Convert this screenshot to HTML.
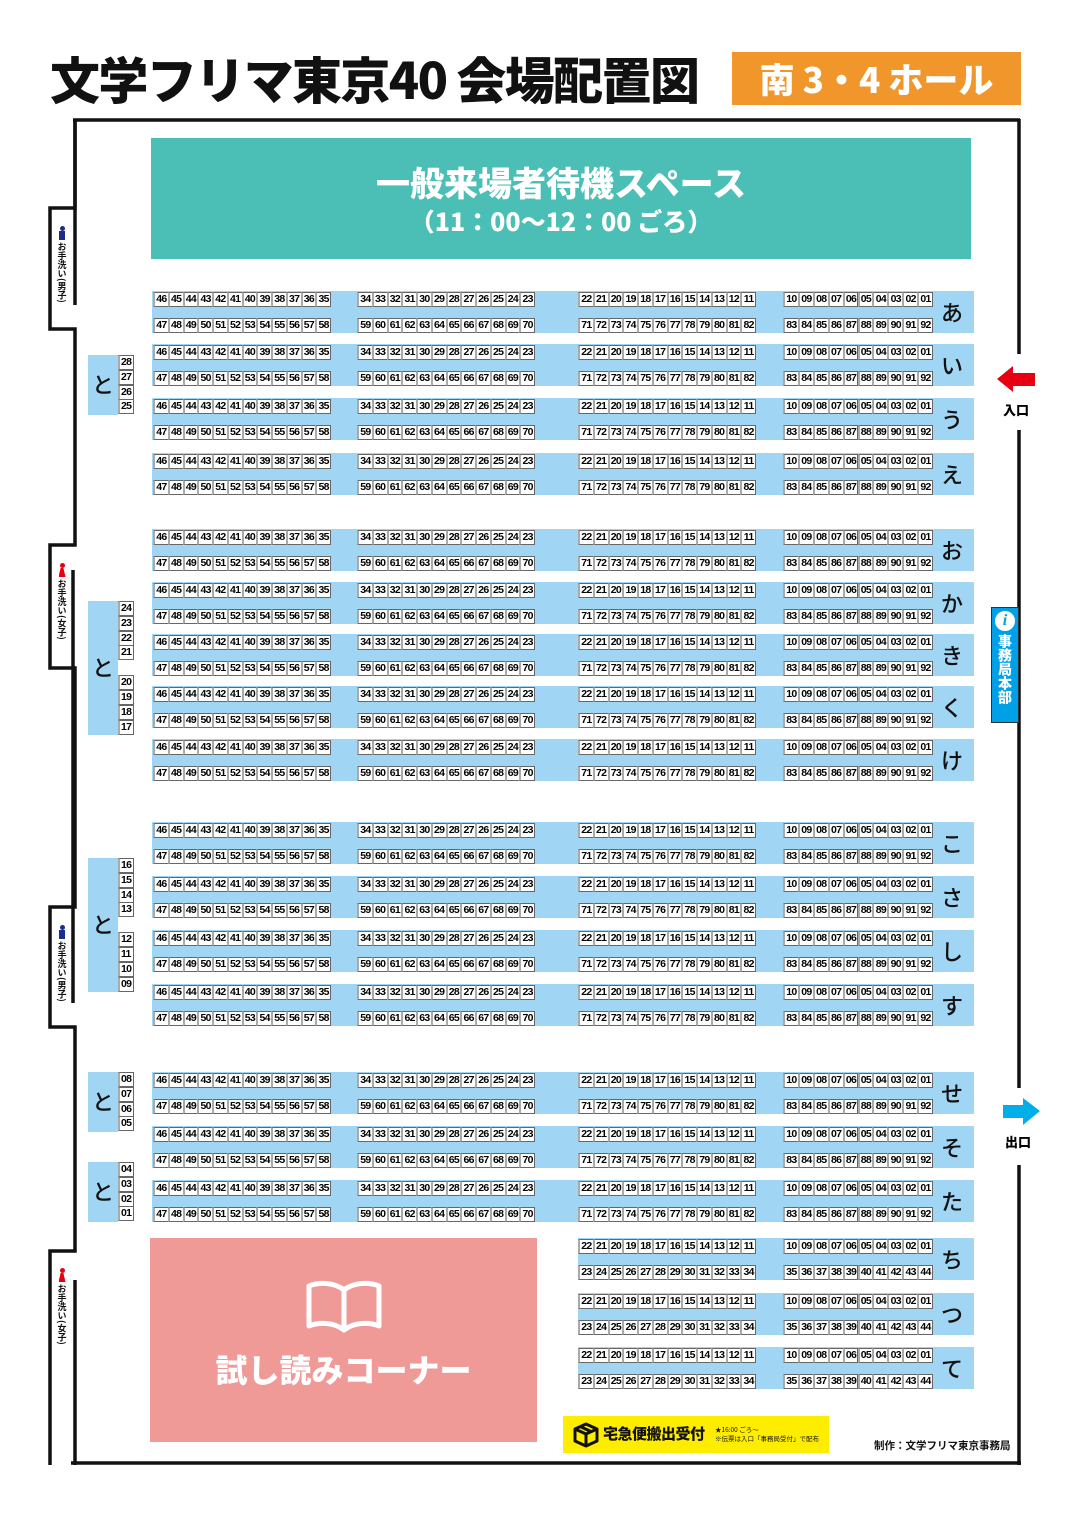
<!DOCTYPE html>
<html><head><meta charset="utf-8">
<style>
*{margin:0;padding:0;box-sizing:border-box}
body{width:1075px;height:1518px;background:#fff;position:relative;overflow:hidden;font-family:"Liberation Sans","Noto Sans CJK JP",sans-serif}
.abs{position:absolute}
.cell{position:absolute;height:15px;background:#fff;border:1px solid #666;border-left:2px solid #aaa;font-size:10.5px;font-weight:700;line-height:13px;text-align:center;letter-spacing:-0.7px;color:#000;font-family:"Liberation Sans",sans-serif}
.band{position:absolute;background:#a0d6f4}
.kana{position:absolute;font-family:"Noto Sans CJK JP",sans-serif;font-size:22px;font-weight:500;color:#111;text-align:center;line-height:22px}
.vt{writing-mode:vertical-rl;font-family:"Noto Sans CJK JP",sans-serif;font-weight:700}
</style></head><body>
<div class="abs" style="left:50px;top:45px;font-family:'Noto Sans CJK JP',sans-serif;font-weight:900;font-size:50px;line-height:66px;color:#111;white-space:nowrap;letter-spacing:-1.6px">文学フリマ東京40 会場配置図</div>
<div class="abs" style="left:732px;top:52px;width:289px;height:53px;background:#f0962a;color:#fff;font-family:'Noto Sans CJK JP',sans-serif;font-weight:900;font-size:35px;line-height:53px;text-align:center;white-space:nowrap">南 3・4 ホール</div>

<svg class="abs" style="left:0;top:0" width="1075" height="1518">
<g stroke="#111" stroke-width="3.5" fill="none">
<path d="M73,120 H1020"/>
<path d="M1019,119 V354 M1019,430 V1088 M1019,1165 V1465"/>
<path d="M71,1463 H1021"/>
<path d="M75,119 V208 H50 V329 H75 V545 H50 V668 H75 V907 H50 V1027 H75 V1251 H50 V1465"/>
<path d="M75,120 V305 M73,570 V907 V1003 M75,1280 V1465"/>
</g>
<polygon points="997,379 1013,366 1013,373 1035,373 1035,386 1013,386 1013,392" fill="#e60012"/>
<polygon points="1040,1111 1023,1098 1023,1105 1003,1105 1003,1118 1023,1118 1023,1125" fill="#00aee8"/>
</svg>
<div class="abs" style="left:1003px;top:400px;font-family:'Noto Sans CJK JP',sans-serif;font-weight:900;font-size:13px">入口</div>
<div class="abs" style="left:1005px;top:1132px;font-family:'Noto Sans CJK JP',sans-serif;font-weight:900;font-size:13px">出口</div>

<div class="abs" style="left:55px;top:226px;width:14px;text-align:center"><div style="width:5px;height:5px;border-radius:50%;background:#1a2f8a;margin:0 auto"></div><div style="width:6px;height:9px;background:#1a2f8a;margin:0 auto 2px"></div><div class="vt" style="font-size:9px;color:#111;margin:0 auto">お手洗い(男子)</div></div>
<div class="abs" style="left:55px;top:563px;width:14px;text-align:center"><div style="width:5px;height:5px;border-radius:50%;background:#e60012;margin:0 auto"></div><div style="width:7px;height:9px;background:#e60012;margin:0 auto 2px;clip-path:polygon(30% 0,70% 0,100% 100%,0 100%)"></div><div class="vt" style="font-size:9px;color:#111;margin:0 auto">お手洗い(女子)</div></div>
<div class="abs" style="left:55px;top:925px;width:14px;text-align:center"><div style="width:5px;height:5px;border-radius:50%;background:#1a2f8a;margin:0 auto"></div><div style="width:6px;height:9px;background:#1a2f8a;margin:0 auto 2px"></div><div class="vt" style="font-size:9px;color:#111;margin:0 auto">お手洗い(男子)</div></div>
<div class="abs" style="left:55px;top:1268px;width:14px;text-align:center"><div style="width:5px;height:5px;border-radius:50%;background:#e60012;margin:0 auto"></div><div style="width:7px;height:9px;background:#e60012;margin:0 auto 2px;clip-path:polygon(30% 0,70% 0,100% 100%,0 100%)"></div><div class="vt" style="font-size:9px;color:#111;margin:0 auto">お手洗い(女子)</div></div>

<div class="abs" style="left:151px;top:138px;width:820px;height:121px;background:#4bbfb6;color:#fff;text-align:center;font-family:'Noto Sans CJK JP',sans-serif;font-weight:900">
<div style="font-size:34px;line-height:40px;margin-top:24px">一般来場者待機スペース</div>
<div style="font-size:25px;line-height:34px;margin-top:2px">（11：00～12：00 ごろ）</div>
</div>

<div class="abs" style="left:991px;top:607px;width:28px;height:116px;background:#00a0e9;border:1px solid #333">
<div style="width:20px;height:20px;border-radius:50%;background:#fff;color:#00a0e9;margin:3px auto 0;font:italic 700 16px/20px 'Liberation Serif',serif;text-align:center">i</div>
<div class="vt" style="color:#fff;font-size:14px;font-weight:900;margin:3px auto 0;line-height:26px">事務局本部</div>
</div>

<div class="abs" style="left:150px;top:1238px;width:387px;height:204px;background:#f09a98;text-align:center">
<svg width="80" height="56" style="margin-top:40px"><g fill="none" stroke="#fff" stroke-width="5" stroke-linejoin="round"><path d="M40,12 C30,4 14,4 5,8 V48 C14,44 30,44 40,52 C50,44 66,44 75,48 V8 C66,4 50,4 40,12 Z M40,12 V52"/></g></svg>
<div style="color:#fff;font-family:'Noto Sans CJK JP',sans-serif;font-weight:900;font-size:32px;line-height:40px;margin-top:10px">試し読みコーナー</div>
</div>

<div class="abs" style="left:563px;top:1416px;width:266px;height:37px;background:#ffed00">
<svg class="abs" style="left:10px;top:6px" width="26" height="26"><g fill="none" stroke="#111" stroke-width="3" stroke-linejoin="round"><path d="M13,2 L24,7 V19 L13,24 L2,19 V7 Z M2,7 L13,12 L24,7 M13,12 V24 M7,4.5 L18,9.5"/></g></svg>
<div class="abs" style="left:40px;top:6px;font-family:'Noto Sans CJK JP',sans-serif;font-weight:900;font-size:15px;line-height:24px;color:#111;white-space:nowrap;letter-spacing:-0.5px">宅急便搬出受付</div>
<div class="abs" style="left:152px;top:9px;font-family:'Noto Sans CJK JP',sans-serif;font-size:6.5px;line-height:9px;color:#111;white-space:nowrap">★16:00 ごろ～<br>※伝票は入口「事務局受付」で配布</div>
</div>
<div class="abs" style="left:874px;top:1438px;font-family:'Noto Sans CJK JP',sans-serif;font-weight:700;font-size:10.5px;color:#111;white-space:nowrap">制作：文学フリマ東京事務局</div>

<div id="seats"></div>
<script>
// row groups: label, top y of upper seat row
const rowLabels = ['あ','い','う','え','お','か','き','く','け','こ','さ','し','す','せ','そ','た','ち','つ','て'];
const rowTops = [292,345,399,454,530,583,635,687,740,823,877,931,985,1073,1127,1181,1239,1294,1348];
const shortRows = ['ち','つ','て'];
// seat numbers per block (upper / lower)
const upperFull = [[46,45,44,43,42,41,40,39,38,37,36,35],[34,33,32,31,30,29,28,27,26,25,24,23],[22,21,20,19,18,17,16,15,14,13,12,11],[10,9,8,7,6,5,4,3,2,1]];
const lowerFull = [[47,48,49,50,51,52,53,54,55,56,57,58],[59,60,61,62,63,64,65,66,67,68,69,70],[71,72,73,74,75,76,77,78,79,80,81,82],[83,84,85,86,87,88,89,90,91,92]];
const upperShort = [[22,21,20,19,18,17,16,15,14,13,12,11],[10,9,8,7,6,5,4,3,2,1]];
const lowerShort = [[23,24,25,26,27,28,29,30,31,32,33,34],[35,36,37,38,39,40,41,42,43,44]];
// side "と" blocks
const toTops = [355,601,858,1072,1162];
const toSeats = [[28,27,26,25],[24,23,22,21,20,19,18,17],[16,15,14,13,12,11,10,9],[8,7,6,5],[4,3,2,1]];

const root = document.getElementById('seats');
const blockX = [153,357,578,783];
const blockEnd = [330,534,755,932];
const pad = n => String(n).padStart(2,'0');

function cellRow(nums, x0, x1, y, name){
  const w = (x1-x0)/nums.length;
  nums.forEach((n,i)=>{
    const c=document.createElement('div');
    c.className='cell';
    
    
    c.style.left=(x0+i*w)+'px';c.style.top=y+'px';c.style.width=(w+1)+'px';
    c.textContent=pad(n);
    root.appendChild(c);
  });
}
rowLabels.forEach((lab,ri)=>{
  const top=rowTops[ri];
  const short=shortRows.includes(lab);
  const b=document.createElement('div');
  b.className='band';
  
  
  const bx = short?578:152;
  b.style.left=bx+'px';b.style.top=(top-1)+'px';b.style.width=(974-bx)+'px';b.style.height='42px';
  root.appendChild(b);
  const up = short?upperShort:upperFull, lo = short?lowerShort:lowerFull;
  const offs = short?2:0;
  up.forEach((arr,k)=>cellRow(arr,blockX[k+offs],blockEnd[k+offs],top,lab));
  lo.forEach((arr,k)=>cellRow(arr,blockX[k+offs],blockEnd[k+offs],top+26,lab));
  const t=document.createElement('div');
  t.className='kana';
  
  
  t.style.left='935px';t.style.top=(top+9)+'px';t.style.width='34px';
  t.textContent=lab;
  root.appendChild(t);
});
toTops.forEach((top,bi)=>{
  const seats=toSeats[bi];
  const n=seats.length;
  const h = n===4?60:134;
  const b=document.createElement('div');
  b.className='band';
  
  
  b.style.left='88px';b.style.top=top+'px';b.style.width='30px';b.style.height=h+'px';
  root.appendChild(b);
  seats.forEach((s,i)=>{
    const c=document.createElement('div');
    c.className='cell';
    
    
    const y = top + i*14.8 + (i>=4?15:0);
    c.style.left='118px';c.style.top=y+'px';c.style.width='16px';c.style.textAlign='left';c.style.paddingLeft='1px';
    c.textContent=pad(s);
    root.appendChild(c);
  });
  const t=document.createElement('div');
  t.className='kana';
  
  
  t.style.left='88px';t.style.top=(top+h/2-12)+'px';t.style.width='30px';
  t.textContent='と';
  root.appendChild(t);
});
</script>
</body></html>
